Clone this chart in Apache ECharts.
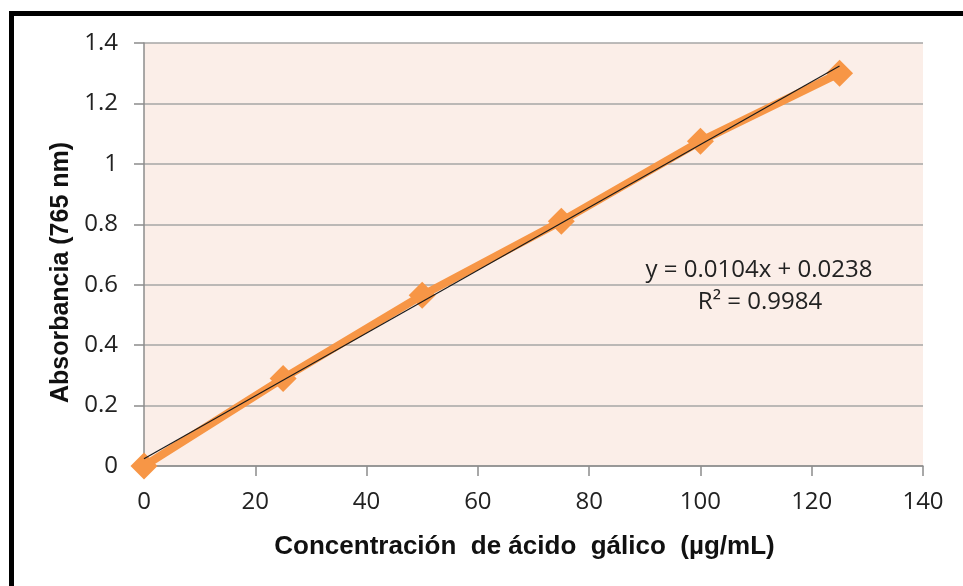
<!DOCTYPE html>
<html>
<head>
<meta charset="utf-8">
<script src="https://cdn.jsdelivr.net/npm/echarts@6/dist/echarts.min.js"></script>
<style>
  html, body { margin: 0; padding: 0; background: #fff; }
  #chart { width: 963px; height: 586px; }
</style>
</head>
<body>
<div id="chart"></div>
<script>
// gallic acid calibration
const concentration = [0, 25, 50, 75, 100, 125];
const absorbance = [0, 0.29, 0.565, 0.81, 1.075, 1.30];
// linear trendline end points, y = 0.0104x + 0.0238
const trendX = [0, 125];
const trendY = [0.0238, 1.3238];
const equationText = "y = 0.0104x + 0.0238";
const r2Text = "R² = 0.9984";

const chart = echarts.init(document.getElementById("chart"));

const option = {
  animation: false,
  grid: {
    left: 144,
    top: 43,
    right: 40,
    bottom: 120,
    show: true,
    backgroundColor: "#FBEEE8",
    borderWidth: 0,
  },
  xAxis: {
    type: "value",
    min: 0,
    max: 140,
    interval: 20,
    name: "Concentración  de ácido  gálico  (µg/mL)",
    nameLocation: "middle",
    nameGap: 68,
    nameTextStyle: {
      fontFamily: "Liberation Sans",
      fontWeight: "bold",
      fontSize: 26,
      color: "#111",
      padding: [0, 18, 0, 0],
    },
    axisLine: { show: true, lineStyle: { color: "#8c8c8c", width: 1.5 } },
    axisTick: { show: true, length: 10, lineStyle: { color: "#8c8c8c", width: 1.5 } },
    axisLabel: { margin: 24, fontFamily: "Open Sans", fontSize: 24, color: "#222" },
    splitLine: { show: false },
  },
  yAxis: {
    type: "value",
    min: 0,
    max: 1.4,
    interval: 0.2,
    name: "Absorbancia (765 nm)",
    nameLocation: "middle",
    nameGap: 64,
    nameTextStyle: {
      fontFamily: "Liberation Sans",
      fontWeight: "bold",
      fontSize: 25,
      color: "#111",
      padding: [0, 36, 0, 0],
    },
    axisLine: { show: true, lineStyle: { color: "#8c8c8c", width: 1.5 } },
    axisTick: { show: true, length: 10, lineStyle: { color: "#8c8c8c", width: 1.5 } },
    axisLabel: { margin: 26, fontFamily: "Open Sans", fontSize: 24, color: "#222" },
    splitLine: { show: true, lineStyle: { color: "#a6a6a6", width: 1.5 } },
  },
  series: [
    {
      name: "Absorbancia",
      type: "line",
      data: concentration.map((x, i) => [x, absorbance[i]]),
      symbol: "diamond",
      symbolSize: 27,
      clip: false,
      lineStyle: { color: "#F79646", width: 8 },
      itemStyle: { color: "#F79646" },
      z: 2,
    },
    {
      name: "Lineal",
      type: "line",
      data: trendX.map((x, i) => [x, trendY[i]]),
      showSymbol: false,
      symbol: "none",
      lineStyle: { color: "#1a1a1a", width: 1.2 },
      z: 3,
    },
  ],
  graphic: [
    {
      type: "rect",
      shape: { x: 11.5, y: 13.5, width: 1200, height: 800 },
      style: { fill: "none", stroke: "#000", lineWidth: 5 },
      silent: true,
    },
    {
      type: "text",
      x: 759,
      y: 270,
      style: {
        text: equationText,
        font: "24px 'Open Sans'",
        fill: "#222",
        align: "center",
        verticalAlign: "middle",
      },
    },
    {
      type: "text",
      x: 760,
      y: 302,
      style: {
        text: r2Text,
        font: "24px 'Open Sans'",
        fill: "#222",
        align: "center",
        verticalAlign: "middle",
      },
    },
  ],
};

option && chart.setOption(option);
</script>
</body>
</html>
